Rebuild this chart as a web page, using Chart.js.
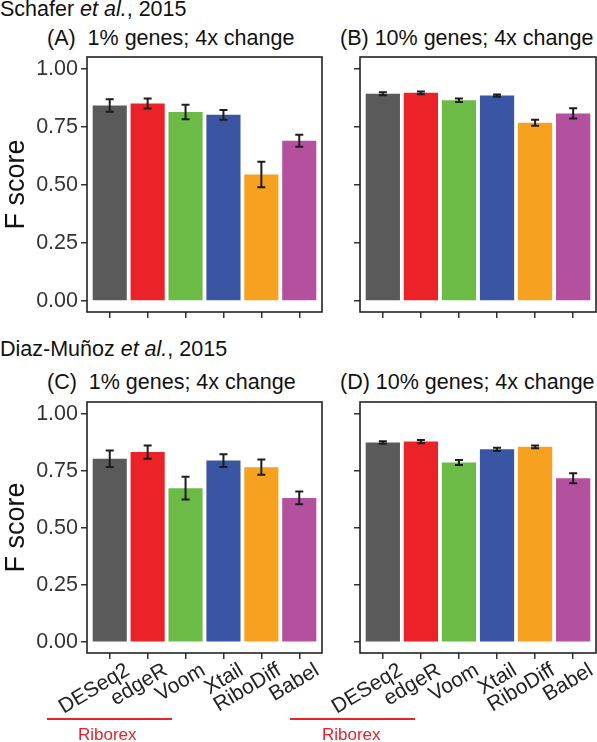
<!DOCTYPE html>
<html>
<head>
<meta charset="utf-8">
<script src="https://cdn.jsdelivr.net/npm/chart.js@4.4.1/dist/chart.umd.min.js"></script>
<style>
    body { margin: 0; background: #fff; font-family: "Liberation Sans", Arial, sans-serif; }
    #page { position: relative; width: 597px; height: 742px; overflow: hidden; }
    .box { position: absolute; }
    .txt { position: absolute; white-space: pre; color: #111; font-size: 21.5px; line-height: 1; }
    .rib { position: absolute; color: #e8212a; font-size: 17px; line-height: 1; }
    .redline { position: absolute; height: 2px; background: #e8212a; }
</style>
</head>
<body>
<div id="page">
    <div class="txt" style="left:0; top:-1px;">Schafer <i>et al.</i>, 2015</div>
    <div class="txt" style="left:47px; top:28px;">(A)  1% genes; 4x change</div>
    <div class="txt" style="left:340px; top:28px;">(B) 10% genes; 4x change</div>
    <div class="txt" style="left:0; top:339px;">Diaz-Muñoz <i>et al.</i>, 2015</div>
    <div class="txt" style="left:47px; top:372px;">(C)  1% genes; 4x change</div>
    <div class="txt" style="left:340px; top:372px;">(D) 10% genes; 4x change</div>

    <div class="box" style="left:0; top:52px; width:324px; height:268px;"><canvas id="chartA"></canvas></div>
    <div class="box" style="left:340px; top:52px; width:257px; height:268px;"><canvas id="chartB"></canvas></div>
    <div class="box" style="left:0; top:397px; width:342px; height:330px;"><canvas id="chartC"></canvas></div>
    <div class="box" style="left:290px; top:397px; width:307px; height:330px;"><canvas id="chartD"></canvas></div>

    <div class="redline" style="left:47px; top:718px; width:125px;"></div>
    <div class="rib" style="left:78px; top:726px;">Riborex</div>
    <div class="redline" style="left:290px; top:718px; width:125px;"></div>
    <div class="rib" style="left:322px; top:726px;">Riborex</div>
</div>

<script>
const methods = ['DESeq2', 'edgeR', 'Voom', 'Xtail', 'RiboDiff', 'Babel'];
const barColors = ['#5a5a5a', '#ec2229', '#6bbb46', '#3a55a4', '#f6a220', '#b4519e'];
const yTicks = [0, 0.25, 0.5, 0.75, 1];

// (A) Schafer, 1% genes
const scoreA = [0.843, 0.852, 0.815, 0.803, 0.546, 0.691];
const errA = [0.027, 0.022, 0.031, 0.021, 0.055, 0.026];
// (B) Schafer, 10% genes
const scoreB = [0.894, 0.898, 0.866, 0.886, 0.769, 0.809];
const errB = [0.006, 0.006, 0.008, 0.005, 0.013, 0.022];
// (C) Diaz-Munoz, 1% genes
const scoreC = [0.804, 0.833, 0.675, 0.796, 0.767, 0.632];
const errC = [0.036, 0.029, 0.050, 0.028, 0.033, 0.028];
// (D) Diaz-Munoz, 10% genes
const scoreD = [0.875, 0.879, 0.787, 0.845, 0.856, 0.718];
const errD = [0.006, 0.007, 0.011, 0.007, 0.006, 0.022];

const FONT = '"Liberation Sans", Arial, sans-serif';

const panelBox = {
    id: 'panelBox',
    afterDraw(chart) {
        const a = chart.chartArea;
        const ctx = chart.ctx;
        ctx.save();
        ctx.strokeStyle = '#222';
        ctx.lineWidth = 1.6;
        ctx.strokeRect(a.left, a.top, a.right - a.left, a.bottom - a.top);
        ctx.restore();
    }
};

const errorBars = {
    id: 'errorBars',
    afterDatasetsDraw(chart) {
        const errs = chart.options.plugins.errorBars.errors;
        const vals = chart.data.datasets[0].data;
        const x = chart.scales.x, y = chart.scales.y;
        const ctx = chart.ctx;
        ctx.save();
        ctx.strokeStyle = '#1c1c1c';
        ctx.lineWidth = 2;
        vals.forEach((p, i) => {
            const px = x.getPixelForValue(p.x);
            const top = y.getPixelForValue(p.y + errs[i]);
            const bot = y.getPixelForValue(p.y - errs[i]);
            ctx.beginPath();
            ctx.moveTo(px, top); ctx.lineTo(px, bot);
            ctx.moveTo(px - 4, top); ctx.lineTo(px + 4, top);
            ctx.moveTo(px - 4, bot); ctx.lineTo(px + 4, bot);
            ctx.stroke();
        });
        ctx.restore();
    }
};

// yWidth: space left of the panel box inside the canvas, padRight: space right of it
function makePanel(id, scores, errs, showY, showX, yWidth, padRight) {
    const canvas = document.getElementById(id);
    new Chart(canvas, {
        type: 'bar',
        data: {
            datasets: [{
                data: scores.map((v, i) => ({ x: i + 1, y: v })),
                backgroundColor: barColors,
                barPercentage: 0.9,
                categoryPercentage: 1.0
            }]
        },
        options: {
            responsive: true,
            maintainAspectRatio: false,
            animation: false,
            layout: { padding: { top: 5, right: padRight, left: 0, bottom: 0 } },
            plugins: {
                legend: { display: false },
                tooltip: { enabled: false },
                errorBars: { errors: errs }
            },
            scales: {
                x: {
                    type: 'linear',
                    min: 0.4,
                    max: 6.6,
                    offset: false,
                    afterBuildTicks: (s) => { s.ticks = methods.map((m, i) => ({ value: i + 1 })); },
                    afterFit: (s) => {
                        s.height = showX ? 74 : 8;
                        s.paddingLeft = 0; s.paddingRight = 0;
                    },
                    border: { display: false },
                    grid: { display: true, drawOnChartArea: false, drawTicks: true, tickLength: 6, color: '#333', lineWidth: 1.5, offset: false },
                    ticks: {
                        display: showX,
                        autoSkip: false,
                        minRotation: 31,
                        maxRotation: 31,
                        padding: -1,
                        labelOffset: 18,
                        color: '#222',
                        font: { family: FONT, size: 21 },
                        callback: (v) => methods[Math.round(v) - 1]
                    }
                },
                y: {
                    min: -0.0475,
                    max: 1.0525,
                    afterBuildTicks: (s) => { s.ticks = yTicks.map(v => ({ value: v })); },
                    afterFit: (s) => {
                        s.width = yWidth;
                        s.paddingTop = 0; s.paddingBottom = 0;
                    },
                    border: { display: false },
                    grid: { display: true, drawOnChartArea: false, drawTicks: true, tickLength: 6, color: '#333', lineWidth: 1.5 },
                    ticks: {
                        display: showY,
                        padding: 3,
                        color: '#333',
                        font: { family: FONT, size: 21.5 },
                        callback: (v) => v.toFixed(2)
                    },
                    title: {
                        display: showY,
                        text: 'F score',
                        color: '#111',
                        padding: { top: 0, bottom: 0 },
                        font: { family: FONT, size: 27 }
                    }
                }
            }
        },
        plugins: [errorBars, panelBox]
    });
}

makePanel('chartA', scoreA, errA, true, false, 87, 2);
makePanel('chartB', scoreB, errB, false, false, 20, 1);
makePanel('chartC', scoreC, errC, true, true, 87, 20);
makePanel('chartD', scoreD, errD, false, true, 70, 1);
</script>
</body>
</html>
